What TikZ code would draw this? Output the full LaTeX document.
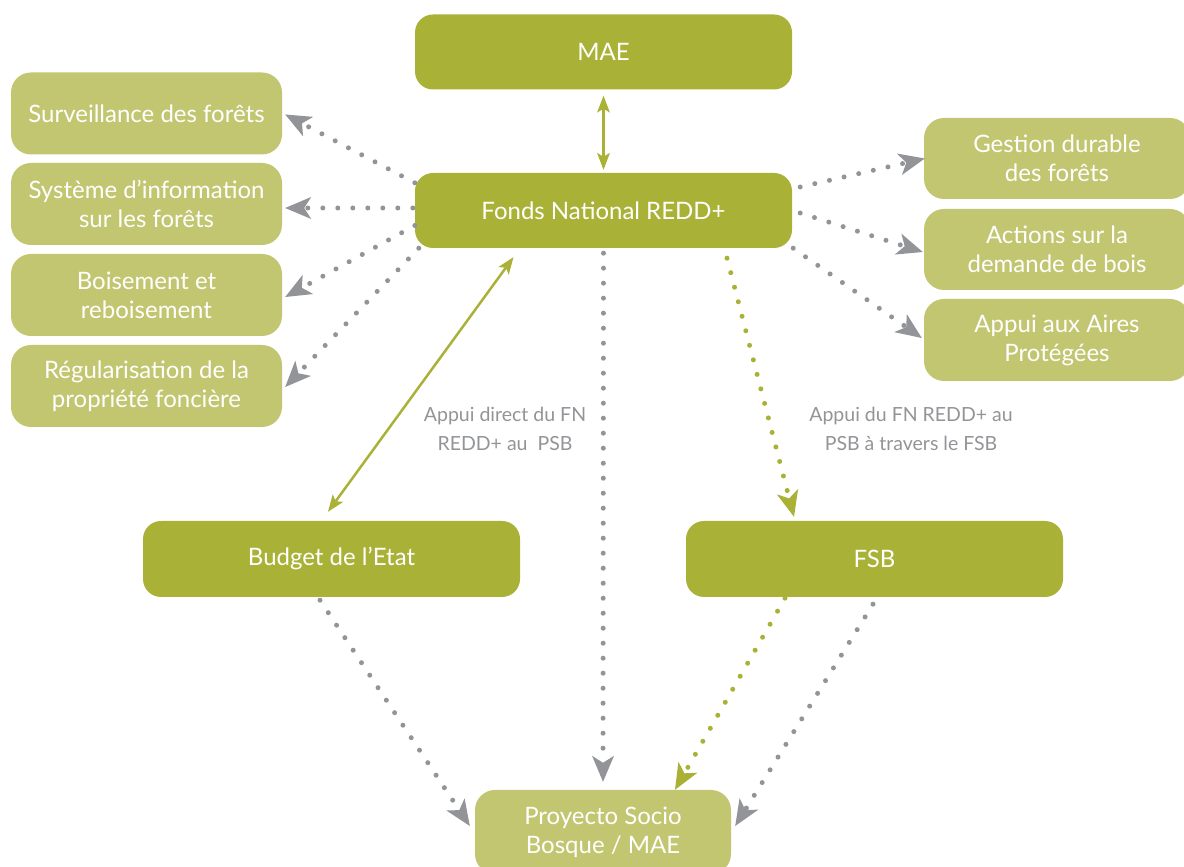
\documentclass[tikz,border=0pt]{standalone}
\usepackage{fontspec}
\setmainfont{Lato}
\usetikzlibrary{arrows.meta}
\definecolor{darkol}{RGB}{169,178,55}
\definecolor{lightol}{RGB}{194,198,112}
\definecolor{greyc}{RGB}{147,148,151}
\begin{document}
\begin{tikzpicture}[x=1pt,y=1pt,
  boxtext/.style={text=white, font=\fontsize{24}{29}\selectfont, align=center, inner sep=0pt},
  darkbox/.style={boxtext, fill=darkol, rounded corners=18pt, minimum width=377pt, minimum height=75pt},
  lightbox/.style={boxtext, fill=lightol, rounded corners=20pt, minimum height=82pt},
  lbl/.style={text=greyc, font=\fontsize{19.5}{29}\selectfont, align=center, inner sep=0pt},
  dotline/.style={line width=5pt, line cap=round, dash pattern=on 0pt off 15pt,
     -{Stealth[length=26pt,width=22pt,inset=7pt,line width=0pt]}},
  gdot/.style={dotline, draw=greyc},
  odot/.style={dotline, draw=darkol},
  dbl/.style={draw=darkol, line width=2.5pt,
     {Stealth[length=17pt,width=13pt,inset=4pt,line width=0pt]}-{Stealth[length=17pt,width=13pt,inset=4pt,line width=0pt]}}
]
\useasboundingbox (0,0) rectangle (1184,867);
\node[darkbox] (mae) at (603.5,815) {MAE};
\node[darkbox] (fonds) at (603.5,656.5) {Fonds National REDD+};
\node[lightbox, minimum width=271pt] (surv) at (146.5,753.5) {Surveillance des forêts};
\node[lightbox, minimum width=271pt] (sys) at (146.5,663) {Système d’information\\sur les forêts};
\node[lightbox, minimum width=271pt] (bois) at (146.5,572) {Boisement et\\reboisement};
\node[lightbox, minimum width=271pt] (regul) at (146.5,481) {Régularisation de la\\propriété foncière};
\node[lightbox, minimum width=266pt, minimum height=81pt] (gest) at (1057,708.5) {Gestion durable\\des forêts};
\node[lightbox, minimum width=266pt, minimum height=81pt] (act) at (1057,617.5) {Actions sur la\\demande de bois};
\node[lightbox, minimum width=266pt, minimum height=82pt] (appui) at (1057,527) {Appui aux Aires\\Protégées};
\node[darkbox, minimum height=76pt] (budget) at (331.5,308) {Budget de l’Etat};
\node[darkbox, minimum height=76pt] (fsb) at (874.5,308) {FSB};
\node[lightbox, minimum width=256pt, minimum height=84pt] (proy) at (603,35) {Proyecto Socio\\Bosque / MAE};
\node[lbl] (l1) at (505,438) {Appui direct du FN\\REDD+ au\ \ PSB};
\node[lbl] (l2) at (911,438) {Appui du FN REDD+ au\\PSB à travers le FSB};
% connectors
\draw[dbl] ([yshift=-6pt]mae.south) -- ([yshift=3pt]fonds.north);
\draw[gdot] ([yshift=-10pt]fonds.north west) -- ([shift={(3pt,-1pt)}]surv.east);
\draw[gdot] ([shift={(-2pt,2.5pt)}]fonds.west) -- ([shift={(3pt,-4pt)}]sys.east);
\draw[gdot] ([yshift=-15pt]fonds.west) -- ([shift={(3pt,-2pt)}]bois.east);
\draw[gdot] ([xshift=4pt]fonds.south west) -- ([shift={(3pt,-1pt)}]regul.east);
\draw[gdot] ([shift={(8pt,23.5pt)}]fonds.east) -- ([xshift=1pt]gest.west);
\draw[gdot] ([shift={(8pt,-2.5pt)}]fonds.east) -- ([shift={(-1pt,-2.5pt)}]act.west);
\draw[gdot] ([xshift=1pt]fonds.south east) -- ([shift={(-2pt,2pt)}]appui.west);
\draw[dbl] ([shift={(-90pt,-9pt)}]fonds.south) -- ([shift={(-3.5pt,9pt)}]budget.north);
\draw[gdot] ([yshift=-5pt]fonds.south) -- ([yshift=8pt]proy.north);
\draw[odot] ([shift={(123.5pt,-10pt)}]fonds.south) -- ([shift={(-80.5pt,4pt)}]fsb.north);
\draw[gdot] ([shift={(-11.5pt,-3pt)}]budget.south) -- ([shift={(-5pt,6pt)}]proy.west);
\draw[odot] ([shift={(-89.5pt,-1pt)}]fsb.south) -- ([xshift=72pt]proy.north);
\draw[gdot] ([shift={(-1.5pt,-7pt)}]fsb.south) -- ([shift={(4pt,6pt)}]proy.east);
\end{tikzpicture}
\end{document}
